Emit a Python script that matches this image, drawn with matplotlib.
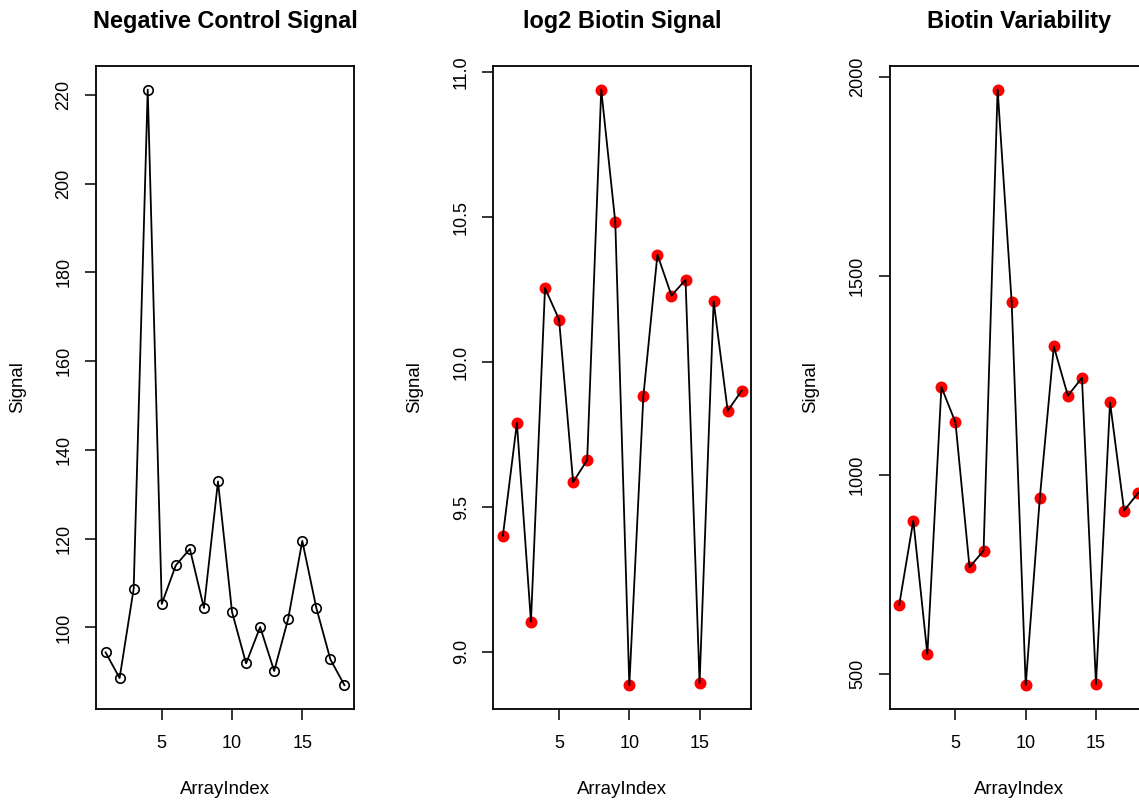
import matplotlib
matplotlib.use("Agg")
import matplotlib.pyplot as plt
import numpy as np

plt.rcParams['font.family'] = ['Liberation Sans', 'DejaVu Sans']

array_index = list(range(1, 19))
neg_control = [94.4, 88.6, 108.7, 221.2, 105.3, 114.0, 117.7, 104.4, 132.9,
               103.5, 91.9, 100.1, 90.2, 102.0, 119.5, 104.4, 92.8, 87.0]
log2_biotin = [9.400, 9.790, 9.104, 10.256, 10.147, 9.586, 9.662, 10.941, 10.484,
               8.885, 9.883, 10.371, 10.230, 10.284, 8.892, 10.210, 9.832, 9.902]
biotin_var = [674.6, 885.2, 550.2, 1220.7, 1131.9, 768.4, 810.0, 1967.4, 1433.3,
              472.4, 941.3, 1322.5, 1198.9, 1244.0, 474.9, 1182.0, 910.5, 954.9]

titles = ["Negative Control Signal", "log2 Biotin Signal", "Biotin Variability"]
x_ticks = [5, 10, 15]
y_ticks = [[100, 120, 140, 160, 180, 200, 220],
           [9.0, 9.5, 10.0, 10.5, 11.0],
           [500, 1000, 1500, 2000]]
y_ticklabels = [["100", "120", "140", "160", "180", "200", "220"],
                ["9.0", "9.5", "10.0", "10.5", "11.0"],
                ["500", "1000", "1500", "2000"]]

W, H = 1139, 800
fig = plt.figure(figsize=(W / 100, H / 100), dpi=100)

lefts = [96, 493.3, 889.7]
box_w = 258
box_top, box_bot = 65.7, 709

series = [neg_control, log2_biotin, biotin_var]
for i in range(3):
    ax = fig.add_axes([lefts[i] / W, (H - box_bot) / H, box_w / W, (box_bot - box_top) / H])
    y = series[i]
    if i == 0:
        ax.plot(array_index, y, color='black', lw=1.3, marker='o', ms=6.8,
                mfc='none', mec='black', mew=1.2, zorder=3)
    else:
        ax.plot(array_index, y, linestyle='none', marker='o', ms=8.6,
                mfc='red', mec='red', mew=0, zorder=2)
        ax.plot(array_index, y, color='black', lw=1.3, zorder=3)
    ax.margins(x=0.04, y=0.04)
    ax.set_xticks(x_ticks)
    ax.set_xticklabels([str(t) for t in x_ticks])
    ax.set_yticks(y_ticks[i])
    ax.set_yticklabels(y_ticklabels[i], rotation=90, va='center')
    ax.tick_params(axis='both', direction='out', length=8, width=1.1,
                   labelsize=13, color='black')
    ax.tick_params(axis='x', pad=11)
    ax.tick_params(axis='y', pad=9)
    for s in ax.spines.values():
        s.set_linewidth(1.3)
    ax.set_xlabel("ArrayIndex", fontsize=13.4)
    ax.xaxis.label.set_va('center')
    ax.xaxis.set_label_coords(0.5, (box_bot - 789) / (box_bot - box_top))
    ax.set_ylabel("Signal", fontsize=13.4)
    ax.yaxis.label.set_va('center')
    ax.yaxis.set_label_coords(-0.305, 0.5)
    ax.text(0.5, (box_bot - 28.3) / (box_bot - box_top), titles[i],
            transform=ax.transAxes, ha='center', va='baseline',
            fontsize=16.9, fontweight='bold')

fig.savefig("out.png", dpi=100)
